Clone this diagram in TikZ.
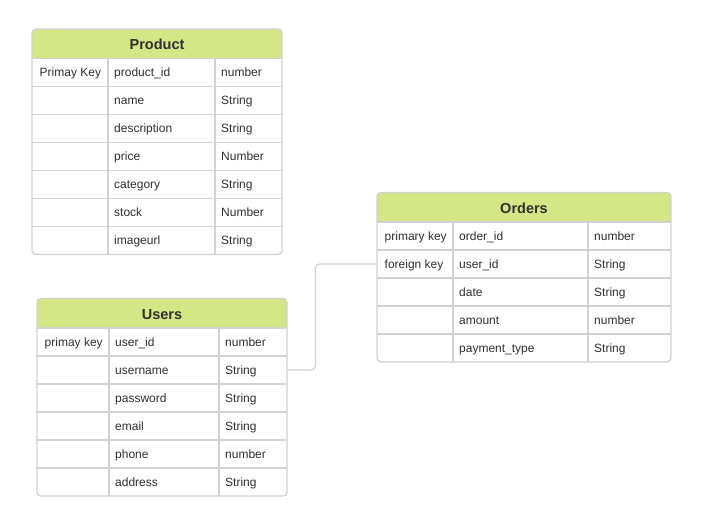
\documentclass[tikz,border=0pt]{standalone}
\usepackage{fontspec}
\setmainfont{Liberation Sans}
\definecolor{hdrgreen}{HTML}{D4E685}
\definecolor{gridgray}{HTML}{D2D2D2}
\definecolor{txt}{HTML}{303030}
\tikzset{
  gridline/.style={draw=gridgray, line width=1.3pt},
  hdrfill/.style={fill=hdrgreen},
  titletext/.style={font=\fontsize{14.5}{16}\selectfont\bfseries, text=txt, anchor=base, inner sep=0pt},
  celltext/.style={font=\fontsize{12}{14}\selectfont, text=txt, anchor=west, inner sep=0pt, text height=9pt, text depth=2.5pt},
  rowbox/.style={inner sep=0pt, minimum height=28pt, anchor=west},
  conn/.style={draw=gridgray, line width=1.3pt, rounded corners=4pt}
}
% #1 name, #2 x0, #3 x1, #4 x2, #5 x3, #6 top, #7 nrows, #8 title, #9 rows
\newcommand\erdtable[9]{%
  \pgfmathsetmacro\tabhb{#6+29.5}%
  \pgfmathsetmacro\tabbt{\tabhb+28*#7}%
  \pgfmathsetmacro\tabwd{#5-#2}%
  \begin{scope}
    \clip[rounded corners=4pt] (#2,#6) rectangle (#5,\tabbt);
    \fill[hdrfill] (#2,#6) rectangle (#5,\tabhb);
  \end{scope}
  \node[titletext] (#1-title) at ({(#2+#5)/2},{#6+21}) {#8};
  \foreach \a/\b/\c [count=\i] in {#9} {
    \pgfmathsetmacro\rowyc{\tabhb+28*(\i-0.5)}
    \node[rowbox, minimum width=\tabwd pt] (#1-r\i) at (#2,\rowyc) {};
    \node[celltext] (#1-k\i) at (#2+7.5,\rowyc+1) {\a};
    \node[celltext] (#1-f\i) at (#3+6,\rowyc+1) {\b};
    \node[celltext] (#1-t\i) at (#4+6,\rowyc+1) {\c};
    \ifnum\i<#7\relax
      \draw[gridline] (#2,\tabhb+28*\i) -- (#5,\tabhb+28*\i);
    \fi
  }
  \draw[gridline] (#2,\tabhb) -- (#5,\tabhb);
  \draw[gridline] (#3,\tabhb) -- (#3,\tabbt);
  \draw[gridline] (#4,\tabhb) -- (#4,\tabbt);
  \draw[gridline, rounded corners=4pt] (#2,#6) rectangle (#5,\tabbt);
}
\begin{document}
\begin{tikzpicture}[x=1pt,y=-1pt]
\useasboundingbox[fill=white] (0,0) rectangle (712,532);
\erdtable{product}{32}{108}{215}{282}{29}{7}{Product}{%
  Primay Key/product\_id/number,
  /name/String,
  /description/String,
  /price/Number,
  /category/String,
  /stock/Number,
  /imageurl/String}
\erdtable{orders}{377}{453}{588}{671}{192.5}{5}{Orders}{%
  primary key/order\_id/number,
  foreign key/user\_id/String,
  /date/String,
  /amount/number,
  /payment\_type/String}
\erdtable{users}{37}{109}{219}{287}{298.5}{6}{Users}{%
  primay key/user\_id/number,
  /username/String,
  /password/String,
  /email/String,
  /phone/number,
  /address/String}
\draw[conn] (users-r2.east) -- ++(28,0) |- (orders-r2.west);
\end{tikzpicture}
\end{document}
